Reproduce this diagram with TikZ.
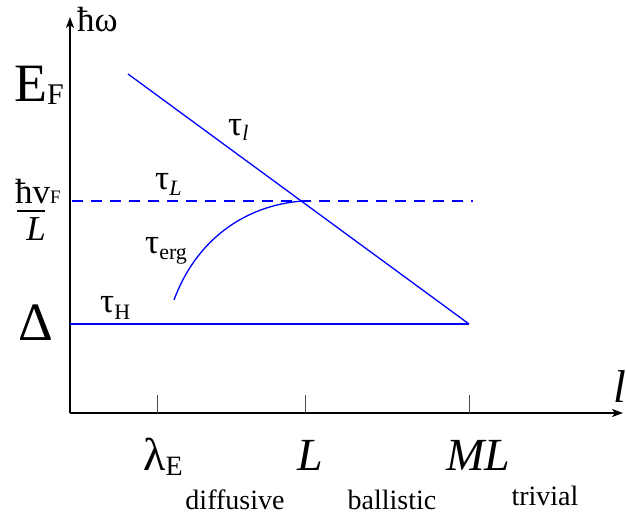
\documentclass[tikz,border=0pt]{standalone}
\usepackage{fontspec}
\setmainfont{Liberation Serif}
\usetikzlibrary{arrows.meta}
\tikzset{
  axis/.style={line width=2.2pt,-{Stealth[length=11pt,width=8pt,inset=3pt]}},
  tickline/.style={line width=0.8pt,black!70},
  bl/.style={blue,line width=1.3pt},
  lab/.style={inner sep=0pt,font=\fontsize{35}{37}\selectfont},
  big/.style={inner sep=0pt,font=\fontsize{46}{48}\selectfont},
  huge/.style={inner sep=0pt,font=\fontsize{54}{56}\selectfont},
  small/.style={inner sep=0pt,font=\fontsize{28}{30}\selectfont},
}
\begin{document}
\begin{tikzpicture}[x=1pt,y=-1pt]
\useasboundingbox (0,0) rectangle (626,518);
% axes
\coordinate (O) at (70,413);
\coordinate (Ytip) at (70,17);
\coordinate (Xtip) at (623,413);
\draw[axis] (O) -- (Ytip);
\draw[axis] (O) -- (Xtip);
% ticks
\coordinate (t1) at (157,395); \coordinate (t1b) at (157,413);
\coordinate (t2) at (305,395); \coordinate (t2b) at (305,413);
\coordinate (t3) at (469,395); \coordinate (t3b) at (469,413);
\draw[tickline] (t1) -- (t1b);
\draw[tickline] (t2) -- (t2b);
\draw[tickline] (t3) -- (t3b);
% blue lines
\coordinate (A) at (128,74);
\coordinate (X) at (303,201);
\coordinate (B) at (469,324);
\coordinate (H0) at (70,324);
\coordinate (D0) at (72,201);
\coordinate (D1) at (473,201);
\coordinate (E0) at (174,300);
\draw[bl] (A) -- (B);
\draw[bl] (H0) -- (B);
\draw[bl,dash pattern=on 11pt off 8pt] (D0) -- (D1);
\draw[bl] (E0) .. controls (196,240) and (245,205) .. (X);
% labels
\node[lab,anchor=base west] (hw) at (77,32) {ħω};
\node[huge,anchor=base west] (EF) at (14,102) {E\raisebox{-3pt}{\fontsize{30}{30}\selectfont F}};
\node[lab,anchor=base west] (hv) at (15,204) {ħv\raisebox{0pt}{\fontsize{19}{19}\selectfont F}};
\coordinate (f0) at (17,211); \coordinate (f1) at (45,211);
\draw[line width=1.2pt] (f0) -- (f1);
\node[lab,anchor=base] (Lf) at (36,241) {\textit{L}};
\node[huge,anchor=base] (Delta) at (36,341) {Δ};
\node[lab,anchor=base west] (tl) at (228,136) {τ\raisebox{-5pt}{\fontsize{22}{22}\selectfont\textit{l}}};
\node[lab,anchor=base west] (tL) at (155,190) {τ\raisebox{-6pt}{\fontsize{22}{22}\selectfont\textit{L}}};
\node[lab,anchor=base west] (terg) at (145,254) {τ\raisebox{-6pt}{\fontsize{22}{22}\selectfont erg}};
\node[lab,anchor=base west] (tH) at (100,313) {τ\raisebox{-6pt}{\fontsize{22}{22}\selectfont H}};
\node[big,anchor=base west] (lam) at (143,470) {λ\raisebox{-5pt}{\fontsize{28}{28}\selectfont E}};
\node[big,anchor=base] (Lx) at (310,470) {\textit{L}};
\node[big,anchor=base] (MLx) at (478,470) {\textit{ML}};
\node[big,anchor=base] (lx) at (620,402) {\textit{l}};
\node[small,anchor=base] (dif) at (235,509) {diffusive};
\node[small,anchor=base] (bal) at (392,509) {ballistic};
\node[small,anchor=base] (tri) at (545,505) {trivial};
\end{tikzpicture}
\end{document}
